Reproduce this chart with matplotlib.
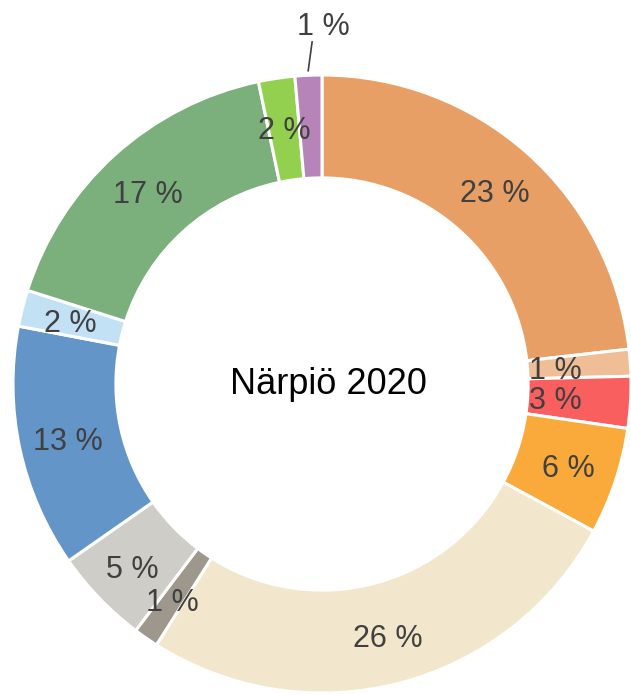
import numpy as np
import matplotlib
matplotlib.use("Agg")
import matplotlib.pyplot as plt

# Data (clockwise from 12 o'clock)
values = [23.2, 1.4, 2.7, 5.6, 26.1, 1.3, 5.0, 12.7, 1.9, 16.8, 1.9, 1.4]
colors = ["#E89F65", "#F0BE96", "#F95F5F", "#F9AA3A", "#F2E7CC", "#9E978C",
          "#CFCDC7", "#6495C8", "#C3E1F5", "#7BAF7B", "#94D050", "#B784B9"]
center_title = "Närpiö 2020"

# label radius factors (style)
label_r = [0.84, 0.757, 0.757, 0.84, 0.84, 0.85, 0.85, 0.84, 0.84, 0.84, 0.84, None]

W, H = 631, 695
fig = plt.figure(figsize=(W / 100, H / 100), dpi=100)
cx, cy, R = 322, 384, 309
ax = fig.add_axes([(cx - R) / W, (H - cy - R) / H, 2 * R / W, 2 * R / H])

wedges, _ = ax.pie(values, colors=colors, startangle=90, counterclock=False,
                   radius=1.0, wedgeprops=dict(width=0.333, edgecolor="white", linewidth=2.2))
ax.set_xlim(-1, 1)
ax.set_ylim(-1, 1)
ax.set_aspect("equal")
ax.axis("off")

total = sum(values)
cum = 0.0
font = "Liberation Sans"
for v, lr in zip(values, label_r):
    mid = (cum + v / 2) / total * 360.0
    cum += v
    th = np.deg2rad(90 - mid)
    txt = f"{v:.0f} %"
    if lr is None:
        x0, y0 = 1.015 * np.cos(th), 1.015 * np.sin(th)
        ax.plot([x0, -0.032], [y0, 1.107], color="#404040", lw=1.2, clip_on=False)
        ax.text(0.003, 1.168, txt, ha="center", va="center_baseline", fontsize=22,
                color="#404040", family=font, clip_on=False)
    else:
        ax.text(lr * np.cos(th), lr * np.sin(th), txt, ha="center", va="center_baseline",
                fontsize=22, color="#404040", family=font)

ax.text(0.02, 0.01, center_title, ha="center", va="center_baseline", fontsize=26,
        color="black", family=font)

fig.savefig("out.png", dpi=100)
